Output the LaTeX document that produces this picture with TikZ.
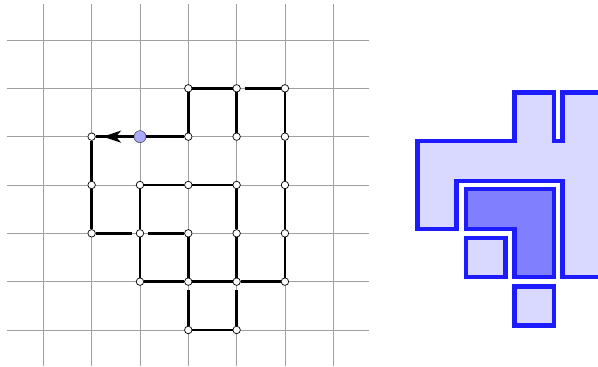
\documentclass[tikz,border=0pt]{standalone}
\usetikzlibrary{arrows.meta}
\definecolor{gridgray}{RGB}{160,160,160}
\definecolor{dotblue}{RGB}{170,170,255}
\definecolor{edgeblue}{RGB}{28,28,255}
\definecolor{lightfill}{RGB}{217,217,255}
\definecolor{darkfill}{RGB}{128,128,255}
\tikzset{
  pt/.style={circle,draw=black,fill=white,line width=0.7pt,inner sep=0pt,minimum size=7.5pt},
  startpt/.style={circle,draw=black!70,fill=dotblue,line width=0.6pt,inner sep=0pt,minimum size=12pt},
  walk/.style={line width=2.7pt,black},
  gapped/.style={walk,shorten <=4pt},
  gridline/.style={gridgray,line width=0.8pt},
  tile/.style={draw=edgeblue,line width=4.5pt,fill=lightfill,line join=miter},
  darktile/.style={tile,fill=darkfill}
}
\begin{document}
\begin{tikzpicture}[x=1pt,y=-1pt]
\useasboundingbox (0,0) rectangle (598,367);
% grid
\foreach \i in {0,...,6}{
  \draw[gridline] ({43.3+48.33*\i},4) -- ({43.3+48.33*\i},366);
  \draw[gridline] (7,{40+48.33*\i}) -- (369,{40+48.33*\i});
}
% nodes
\foreach \c/\r in {3/1,4/1,5/1,1/2,3/2,4/2,5/2,1/3,2/3,3/3,4/3,5/3,1/4,2/4,3/4,4/4,5/4,2/5,3/5,4/5,5/5,3/6,4/6}{
  \node[pt] (n\c\r) at ({43.3+48.33*\c},{40+48.33*\r}) {};
}
\node[startpt] (n22) at ({43.3+48.33*2},{40+48.33*2}) {};
\coordinate (arrtip) at (103,{40+48.33*2});
% walk
\draw[walk] (n22) -- (n32);
\draw[walk] (n22) -- (n12);
\draw[walk,-{Stealth[length=18pt,width=12pt,inset=5pt]}] (n22) -- (arrtip);
\draw[walk] (n31) -- (n41);
\draw[gapped] (n41) -- (n51);
\draw[walk] (n23) -- (n33);
\draw[walk] (n33) -- (n43);
\draw[gapped] (n24) -- (n14);
\draw[gapped] (n24) -- (n34);
\draw[walk] (n25) -- (n35);
\draw[walk] (n35) -- (n45);
\draw[walk] (n45) -- (n55);
\draw[walk] (n36) -- (n46);
\draw[walk] (n31) -- (n32);
\draw[walk] (n41) -- (n42);
\draw[walk] (n51) -- (n52);
\draw[walk] (n52) -- (n53);
\draw[walk] (n53) -- (n54);
\draw[walk] (n54) -- (n55);
\draw[walk] (n12) -- (n13);
\draw[walk] (n13) -- (n14);
\draw[walk] (n23) -- (n24);
\draw[walk] (n24) -- (n25);
\draw[walk] (n34) -- (n35);
\draw[gapped] (n35) -- (n36);
\draw[walk] (n43) -- (n44);
\draw[walk] (n44) -- (n45);
\draw[gapped] (n45) -- (n46);
% tiles
\begin{scope}
\clip (380,0) rectangle (598,367);
\draw[tile] (417.5,141) -- (514.5,141) -- (514.5,92.5) -- (554,92.5) -- (554,141) -- (562.5,141) -- (562.5,92.5) -- (610,92.5) -- (610,277) -- (562.5,277) -- (562.5,181) -- (456.5,181) -- (456.5,229) -- (417.5,229) -- cycle;
\draw[darktile] (466,189) -- (554,189) -- (554,277) -- (514.5,277) -- (514.5,229) -- (466,229) -- cycle;
\draw[tile] (466,238) rectangle (505.5,277);
\draw[tile] (514.5,286.5) rectangle (554,325.5);
\end{scope}
\end{tikzpicture}
\end{document}
